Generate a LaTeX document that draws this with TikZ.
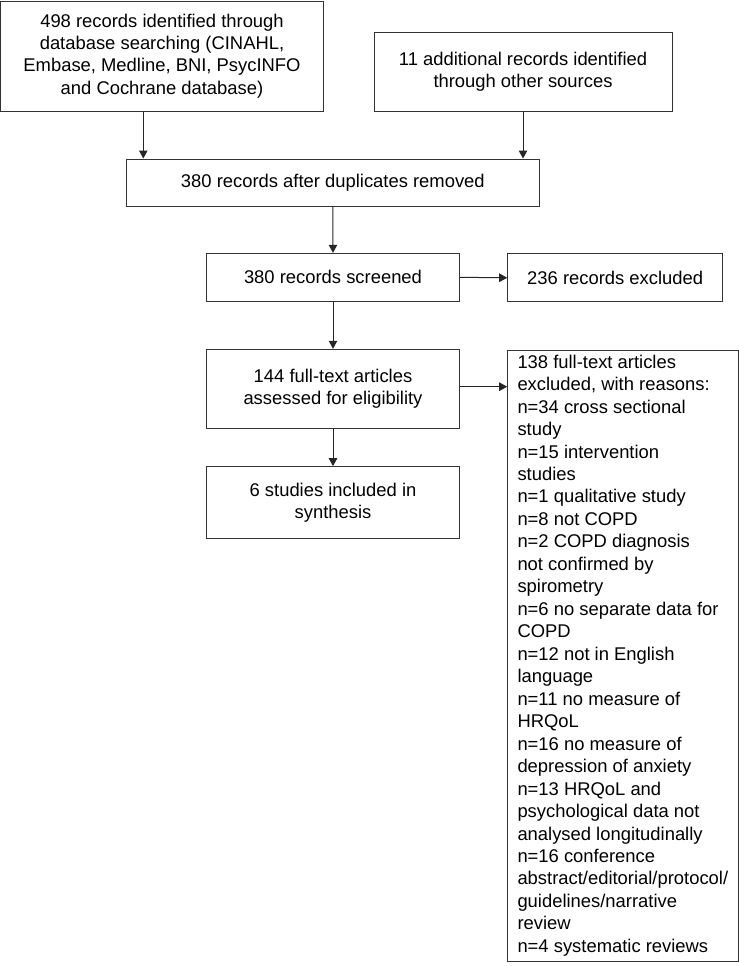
\documentclass[tikz,border=0pt]{standalone}
\usepackage{fontspec}
\setmainfont{Liberation Sans}
\usetikzlibrary{arrows.meta}
\begin{document}
\begin{tikzpicture}[x=1bp,y=-1bp,
  box/.style={draw=black!80, line width=1bp, align=center, inner sep=0pt,
    font=\fontsize{18.4bp}{22.47bp}\selectfont, text=black},
  arr/.style={draw=black!85, line width=1bp, -{Triangle[length=8bp,width=8.5bp]}}]
\useasboundingbox (0,0) rectangle (739,966);
% boxes
\node[box, minimum width=322bp, minimum height=110bp] (A) at (162,56)
  {498 records identified through\\database searching (CINAHL,\\Embase, Medline, BNI, PsycINFO\\and Cochrane database)};
\node[box, minimum width=298bp, minimum height=79.4bp] (B) at (523,72)
  {11 additional records identified\\through other sources};
\node[box, minimum width=412.3bp, minimum height=47.7bp] (C) at (332.85,182.85)
  {380 records after duplicates removed};
\node[box, minimum width=252.6bp, minimum height=48bp] (D) at (333,277.3)
  {380 records screened};
\node[box, minimum width=215bp, minimum height=47.7bp] (E) at (615.2,277.8)
  {236 records excluded};
\node[box, minimum width=252.6bp, minimum height=79bp] (F) at (333,388.8)
  {144 full-text articles\\assessed for eligibility};
\node[box, minimum width=252.6bp, minimum height=72.3bp] (G) at (333,502.8)
  {6 studies included in\\synthesis};
\node[box, align=left, minimum width=230.3bp, minimum height=611bp] (H) at (622.85,655.5)
  {138 full-text articles\\
   excluded, with reasons:\\
   n=34 cross sectional\\
   study\\
   n=15 intervention\\
   studies\\
   n=1 qualitative study\\
   n=8 not COPD\\
   n=2 COPD diagnosis\\
   not confirmed by\\
   spirometry\\
   n=6 no separate data for\\
   COPD\\
   n=12 not in English\\
   language\\
   n=11 no measure of\\
   HRQoL\\
   n=16 no measure of\\
   depression of anxiety\\
   n=13 HRQoL and\\
   psychological data not\\
   analysed longitudinally\\
   n=16 conference\\
   abstract/editorial/protocol/\\
   guidelines/narrative\\
   review\\
   n=4 systematic reviews};
% connector x positions
\coordinate (xa) at (143.3,0);
\coordinate (xb) at (523,0);
\coordinate (yf) at (0,386.7);
% connectors
\draw[arr] (A.south -| xa) -- (C.north -| xa);
\draw[arr] (B.south -| xb) -- (C.north -| xb);
\draw[arr] (C.south) -- (D.north);
\draw[arr] (D.east) -- (E.west);
\draw[arr] (D.south) -- (F.north);
\draw[arr] (F.east |- yf) -- (H.west |- yf);
\draw[arr] (F.south) -- (G.north);
\end{tikzpicture}
\end{document}
